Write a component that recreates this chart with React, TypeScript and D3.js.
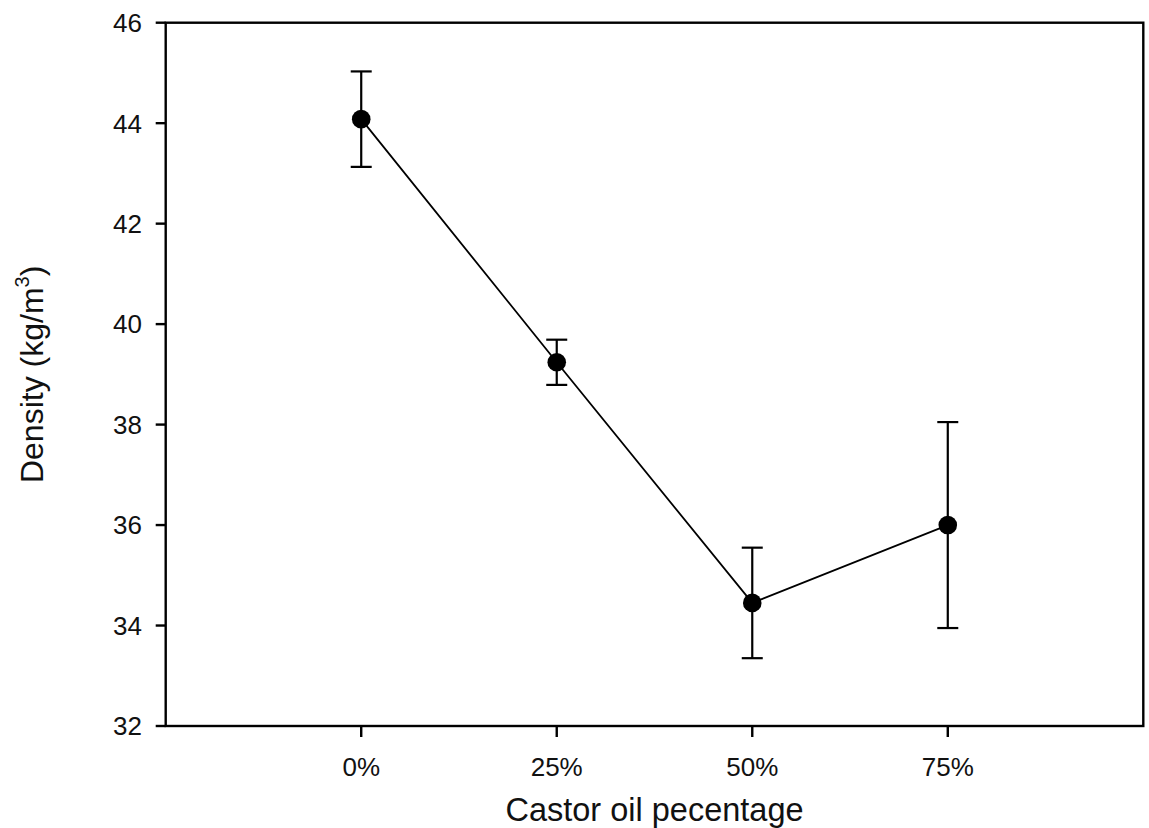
import React from "react";
import * as d3 from "d3";

const categories = [0, 25, 50, 75];
const tickLabels = ["0%", "25%", "50%", "75%"];
const densityMean = [44.08, 39.24, 34.45, 36.0];
const densityErr = [0.95, 0.45, 1.1, 2.05];
const yTicks = [32, 34, 36, 38, 40, 42, 44, 46];

const W = 1149;
const H = 828;
const left = 165.7;
const right = 1143.3;
const top = 22.7;
const bottom = 726;
const font = "'Liberation Sans', Arial, sans-serif";

export default function App() {
  const x = d3.scaleLinear().domain([-25, 100]).range([left, right]);
  const y = d3.scaleLinear().domain([32, 46]).range([bottom, top]);
  const pts = categories.map((c, i) => [x(c), y(densityMean[i])] as [number, number]);
  const line = d3.line()(pts) || "";
  const cap = 10.5;

  return (
    <div style={{ position: "absolute", left: 0, top: 0 }}>
      <svg width={W} height={H} style={{ display: "block", background: "#fff" }}>
        <rect x={0} y={0} width={W} height={H} fill="#fff" />
        {/* y ticks */}
        {yTicks.map((t) => (
          <g key={t}>
            <line x1={left - 10} x2={left} y1={y(t)} y2={y(t)} stroke="#000" strokeWidth={2.4} />
            <text x={142} y={y(t)} dy="0.36em" textAnchor="end" fontFamily={font} fontSize={26} fill="#111">
              {t}
            </text>
          </g>
        ))}
        {/* x ticks */}
        {categories.map((c, i) => (
          <g key={c}>
            <line x1={x(c)} x2={x(c)} y1={bottom} y2={bottom + 11} stroke="#000" strokeWidth={2.4} />
            <text x={x(c)} y={776} textAnchor="middle" fontFamily={font} fontSize={26} fill="#111">
              {tickLabels[i]}
            </text>
          </g>
        ))}
        {/* frame */}
        <rect x={left} y={top} width={right - left} height={bottom - top} fill="none" stroke="#000" strokeWidth={2.4} />
        {/* line */}
        <path d={line} fill="none" stroke="#000" strokeWidth={1.8} />
        {/* error bars */}
        {categories.map((c, i) => {
          const cx = x(c);
          const y1 = y(densityMean[i] + densityErr[i]);
          const y2 = y(densityMean[i] - densityErr[i]);
          return (
            <g key={"e" + c} stroke="#000" strokeWidth={2.2}>
              <line x1={cx} x2={cx} y1={y1} y2={y2} />
              <line x1={cx - cap} x2={cx + cap} y1={y1} y2={y1} />
              <line x1={cx - cap} x2={cx + cap} y1={y2} y2={y2} />
            </g>
          );
        })}
        {/* markers */}
        {pts.map((p, i) => (
          <circle key={"m" + i} cx={p[0]} cy={p[1]} r={9.3} fill="#000" />
        ))}
        {/* axis titles */}
        <text x={(left + right) / 2} y={821} textAnchor="middle" fontFamily={font} fontSize={32.5} fill="#111">
          Castor oil pecentage
        </text>
        <text
          transform={`translate(43, ${(top + bottom) / 2}) rotate(-90)`}
          textAnchor="middle"
          fontFamily={font}
          fontSize={32}
          fill="#111"
        >
          Density (kg/m
          <tspan fontSize={20} dy={-14}>3</tspan>
          <tspan dy={14}>)</tspan>
        </text>
      </svg>
    </div>
  );
}
